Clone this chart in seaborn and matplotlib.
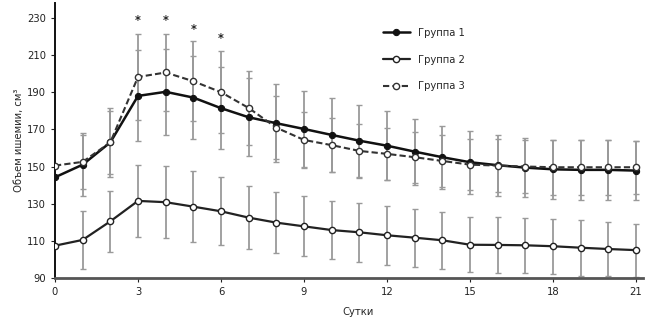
import numpy as np
import matplotlib
matplotlib.use("Agg")
import matplotlib.pyplot as plt
import pandas as pd
import seaborn as sns

# данные
days = list(range(22))
group1 = [144.2, 151.0, 163.0, 188.0, 190.2, 187.1, 181.4, 176.5, 173.3, 170.2, 167.0,
          163.9, 161.2, 158.0, 155.0, 152.3, 150.7, 149.4, 148.5, 148.2, 148.2, 147.8]
group2 = [107.4, 110.5, 120.5, 131.5, 130.8, 128.4, 125.9, 122.5, 119.8, 117.8, 115.8,
          114.6, 113.0, 111.7, 110.3, 107.9, 107.8, 107.6, 107.1, 106.3, 105.6, 105.0]
group3 = [150.5, 152.5, 163.0, 198.2, 200.6, 195.9, 190.0, 181.5, 170.9, 164.3, 161.5,
          158.4, 156.8, 155.0, 153.0, 151.0, 150.5, 150.0, 149.6, 149.6, 149.6, 149.6]
err1 = [0, 17.0, 18.5, 24.5, 23.0, 22.5, 22.0, 21.0, 21.0, 20.5, 20.0,
        19.3, 18.5, 17.8, 17.0, 17.0, 16.3, 15.8, 15.8, 16.0, 16.0, 16.0]
err2 = [0, 15.7, 16.3, 19.3, 19.5, 19.2, 18.2, 17.0, 16.4, 16.2, 15.8,
        16.0, 15.9, 15.6, 15.4, 14.9, 15.0, 14.9, 14.9, 15.0, 14.7, 14.3]
err3 = [0, 14.5, 17.0, 23.0, 20.5, 21.5, 22.0, 20.0, 17.0, 15.0, 14.5,
        14.4, 13.8, 13.8, 14.0, 13.8, 14.2, 14.3, 14.7, 14.7, 14.7, 14.3]
star_days = [3, 4, 5, 6]
star_y = [228.5, 228.5, 224.0, 219.0]
labels = ["Группа 1", "Группа 2", "Группа 3"]

df = pd.DataFrame({"day": days, "g1": group1, "g2": group2, "g3": group3})

sns.set_style("white")
# узкий шрифт, если есть
plt.rcParams["font.family"] = ["DejaVu Sans"]
plt.rcParams["font.stretch"] = "condensed"
plt.rcParams["font.size"] = 7.5

fig = plt.figure(figsize=(6.53, 3.23), dpi=100)
ax = fig.add_axes([0.0842, 0.1393, 0.9005, 0.8514])

# планки погрешностей (серые)
for y, e in [(group1, err1), (group3, err3), (group2, err2)]:
    e = np.array(e, dtype=float)
    e[e == 0] = np.nan
    ax.errorbar(days, y, yerr=e, fmt="none", ecolor="#9a9a9a", elinewidth=1.3,
                capsize=2.4, capthick=1.0, zorder=1)

sns.lineplot(data=df, x="day", y="g1", ax=ax, color="#111111", lw=1.8,
             marker="o", markersize=4.5, markerfacecolor="#111111",
             markeredgecolor="#111111", label=labels[0], zorder=4)
sns.lineplot(data=df, x="day", y="g2", ax=ax, color="#222222", lw=1.6,
             marker="o", markersize=4.5, markerfacecolor="white",
             markeredgecolor="#222222", markeredgewidth=1.0, label=labels[1], zorder=4)
sns.lineplot(data=df, x="day", y="g3", ax=ax, color="#333333", lw=1.5,
             linestyle=(0, (3, 1.5)), marker="o", markersize=4.5,
             markerfacecolor="white", markeredgecolor="#333333",
             markeredgewidth=1.0, label=labels[2], zorder=5)

for d, s in zip(star_days, star_y):
    ax.text(d, s, "*", ha="center", va="center", fontsize=9, fontweight="bold")

ax.set_xlim(0, 21.25)
ax.set_ylim(90, 238)
ax.set_xticks(range(0, 22, 3))
ax.set_yticks(range(90, 231, 20))
ax.set_xlabel("Сутки", fontsize=8)
ax.set_ylabel("Объем ишемии, см³", fontsize=8)
ax.xaxis.set_label_coords(0.515, -0.105)
ax.yaxis.set_label_coords(-0.052, 0.5)

for side in ["top", "right"]:
    ax.spines[side].set_visible(False)
ax.spines["left"].set_color("#111111")
ax.spines["left"].set_linewidth(1.4)
ax.spines["bottom"].set_color("#555555")
ax.spines["bottom"].set_linewidth(2.0)
ax.tick_params(axis="both", which="major", length=3, width=0.8, colors="#222222",
               labelsize=8, bottom=True, left=True)

leg = ax.legend(loc="upper left", bbox_to_anchor=(0.541, 0.945), frameon=False,
                handlelength=2.4, labelspacing=1.5, handletextpad=0.7, fontsize=8)

fig.savefig("out.png", dpi=100)
